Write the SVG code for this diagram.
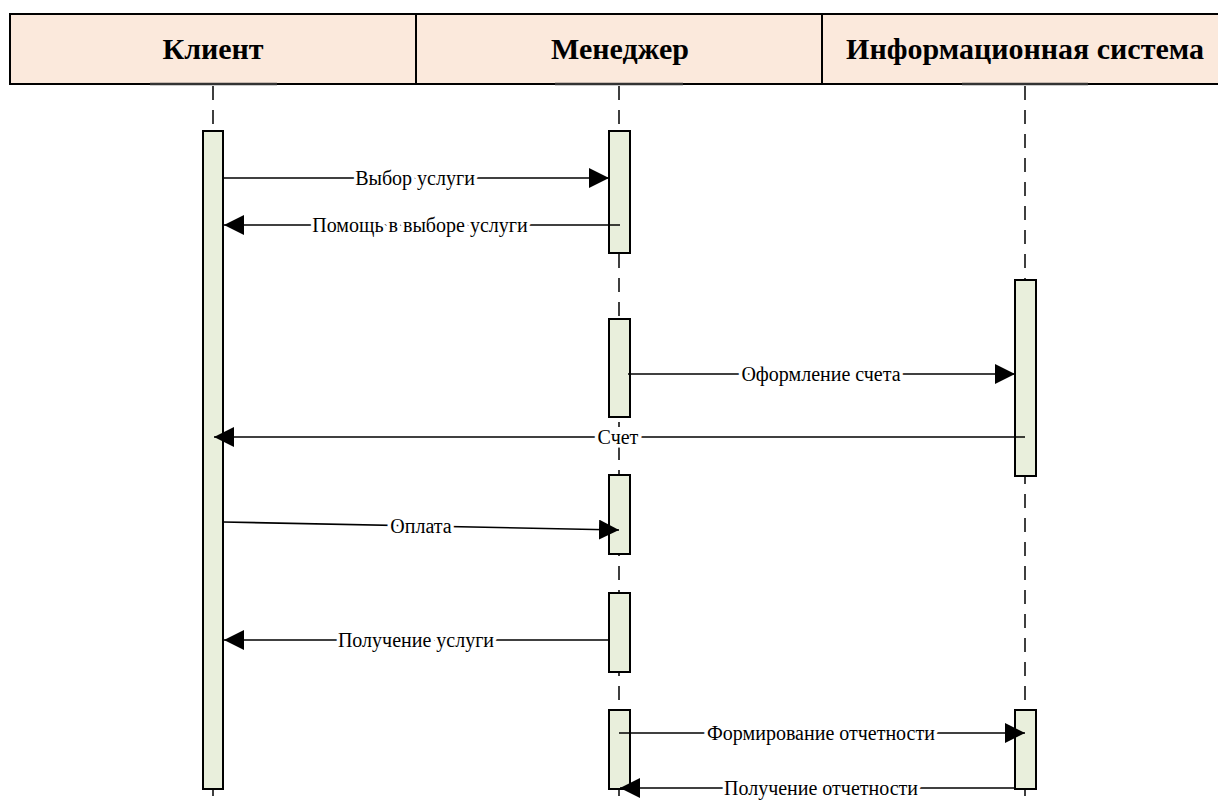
<svg xmlns="http://www.w3.org/2000/svg" width="1218" height="805" viewBox="0 0 1218 805">
<style>
.hdr{fill:#FBE9DC;stroke:#000;stroke-width:2}
.htxt{font-family:"Liberation Serif","Times New Roman",serif;font-weight:bold;font-size:30px;text-anchor:middle;fill:#000}
.life{stroke:#000;stroke-width:1.5;stroke-dasharray:14 10;fill:none}
.act{fill:#E9EFDC;stroke:#000;stroke-width:2}
.msg{stroke:#000;stroke-width:1.6;fill:none;marker-end:url(#arr)}
.lbl{font-family:"Liberation Serif","Times New Roman",serif;font-size:20px;text-anchor:middle;fill:#000;stroke:#fff;stroke-width:7px;paint-order:stroke;stroke-linejoin:round}
.ul{stroke:#333;stroke-width:2.5}
</style>
<defs>
<marker id="arr" markerUnits="userSpaceOnUse" markerWidth="20" markerHeight="20" refX="20" refY="10" orient="auto">
<path d="M0,0 L20,10 L0,20 z" fill="#000"/>
</marker>
</defs>
<rect width="1218" height="805" fill="#fff"/>
<g id="header">
<rect class="hdr" x="10" y="14" width="1215" height="70"/>
<line x1="416" y1="14" x2="416" y2="84" stroke="#000" stroke-width="2"/>
<line x1="822" y1="14" x2="822" y2="84" stroke="#000" stroke-width="2"/>
</g>
<g id="client">
<text class="htxt" x="213" y="59">Клиент</text>
<line class="ul" x1="150" y1="84" x2="277" y2="84"/>
<line class="life" x1="213" y1="86" x2="213" y2="805"/>
<rect class="act" x="203" y="131" width="20" height="658"/>
</g>
<g id="manager">
<text class="htxt" x="620" y="59">Менеджер</text>
<line class="ul" x1="555" y1="84" x2="683" y2="84"/>
<line class="life" x1="619" y1="86" x2="619" y2="805"/>
<rect class="act" x="609" y="131" width="21" height="122"/>
<rect class="act" x="609" y="319" width="21" height="98"/>
<rect class="act" x="609" y="475" width="21" height="79"/>
<rect class="act" x="609" y="593" width="21" height="79"/>
<rect class="act" x="609" y="710" width="21" height="79"/>
</g>
<g id="infosystem">
<text class="htxt" x="1025" y="59">Информационная система</text>
<line class="ul" x1="962" y1="84" x2="1088" y2="84"/>
<line class="life" x1="1025" y1="86" x2="1025" y2="805"/>
<rect class="act" x="1015" y="280" width="21" height="196"/>
<rect class="act" x="1015" y="710" width="21" height="79"/>
</g>
<g id="connectors">
<line class="msg" x1="223" y1="178" x2="609" y2="178"/>
<text class="lbl" x="415" y="185">Выбор услуги</text>
<line class="msg" x1="620" y1="225" x2="224" y2="225"/>
<text class="lbl" x="420" y="232">Помощь в выборе услуги</text>
<line class="msg" x1="628" y1="374" x2="1015" y2="374"/>
<text class="lbl" x="821" y="381">Оформление счета</text>
<line class="msg" x1="1025" y1="437" x2="214" y2="437"/>
<rect x="597" y="427" width="43" height="20" fill="#fff"/>
<text class="lbl" x="618" y="444">Счет</text>
<line class="msg" x1="223" y1="522" x2="619" y2="530"/>
<text class="lbl" x="421" y="533">Оплата</text>
<line class="msg" x1="609" y1="640" x2="224" y2="640"/>
<text class="lbl" x="416" y="647">Получение услуги</text>
<line class="msg" x1="619" y1="733" x2="1025" y2="733"/>
<text class="lbl" x="821" y="740">Формирование отчетности</text>
<line class="msg" x1="1015" y1="788" x2="620" y2="788"/>
<text class="lbl" x="821" y="795">Получение отчетности</text>
</g>
</svg>
